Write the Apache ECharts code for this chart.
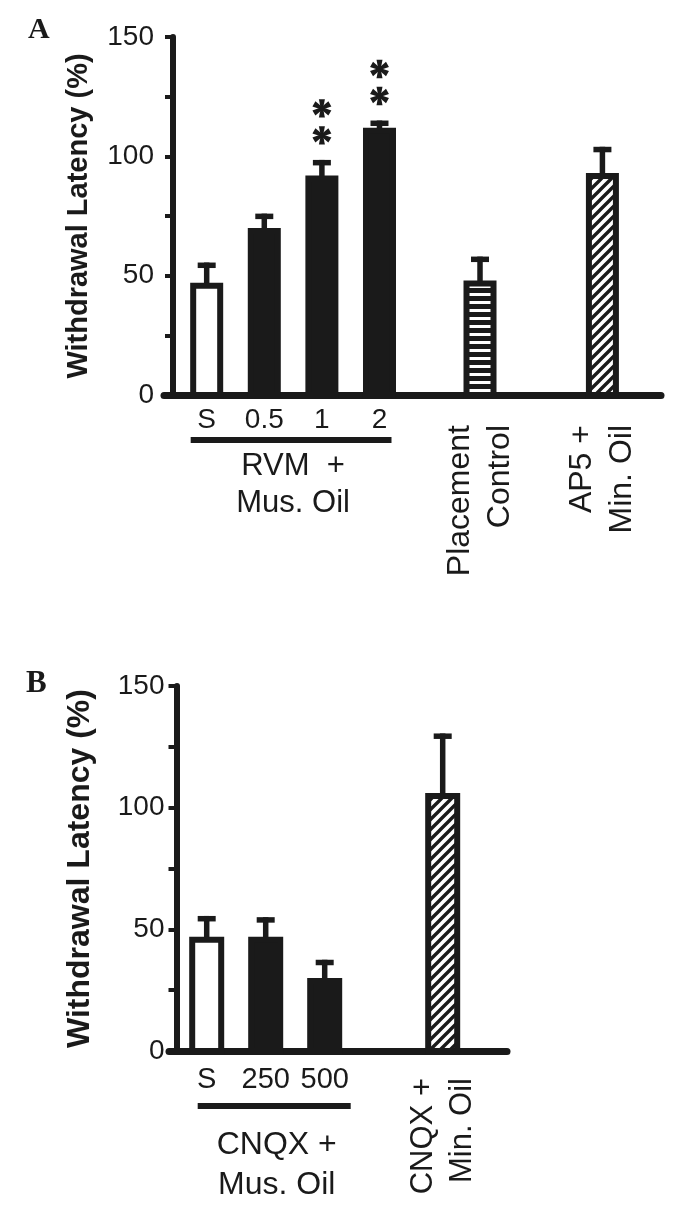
<!DOCTYPE html>
<html><head><meta charset="utf-8">
<script src="https://cdn.jsdelivr.net/npm/echarts@6/dist/echarts.min.js"></script>
<style>html,body{margin:0;padding:0;background:#fff}#c{width:694px;height:1220px}</style>
</head><body><div id="c"></div>
<script>
// ---------- data ----------
const yTicks = [0, 50, 100, 150];
const yTitle = 'Withdrawal Latency (%)';
const catsA = ['S', '0.5', '1', '2', 'Placement\nControl', 'AP5 +\nMin. Oil'];
const valsA = [47, 70, 92, 112, 48, 93];
const errA = [8.5, 6, 6.5, 3, 10, 11];
const starsA = [0, 0, 2, 2, 0, 0];
const groupA = 'RVM  +\nMus. Oil';
const catsB = ['S', '250', '500', 'CNQX +\nMin. Oil'];
const valsB = [47, 47, 30, 106];
const errB = [8.5, 8, 7.5, 24.5];
const starsB = [0, 0, 0, 0];
const groupB = 'CNQX +\nMus. Oil';

// ---------- layout / style ----------
const INK = '#1a1a1a';
const FONT = 'Liberation Sans, Arial, Helvetica, sans-serif';
const posA = [1, 2, 3, 4, 5.745, 7.87];
const posB = [1, 2, 3, 5];
const fillA = ['white', 'black', 'black', 'black', 'hstripe', 'diag'];
const fillB = ['white', 'black', 'black', 'diag'];
const rotA = [0, 0, 0, 0, 1, 1];
const rotB = [0, 0, 0, 1];

function makeDiag() {
  const s = 10, c = document.createElement('canvas');
  c.width = s; c.height = s;
  const g = c.getContext('2d');
  g.fillStyle = '#fff'; g.fillRect(0, 0, s, s);
  g.strokeStyle = INK; g.lineWidth = 3.4; g.lineCap = 'square';
  g.beginPath();
  g.moveTo(0, s); g.lineTo(s, 0);
  g.moveTo(-2, 2); g.lineTo(2, -2);
  g.moveTo(s - 2, s + 2); g.lineTo(s + 2, s - 2);
  g.stroke();
  return c;
}
function makeHStripe() {
  const c = document.createElement('canvas');
  c.width = 4; c.height = 8;
  const g = c.getContext('2d');
  g.fillStyle = INK; g.fillRect(0, 0, 4, 8);
  g.fillStyle = '#fff'; g.fillRect(0, 5, 4, 3);
  return c;
}
const PAT = { diag: makeDiag(), hstripe: makeHStripe() };
function fillOf(k) {
  if (k === 'white') return '#fff';
  if (k === 'black') return INK;
  return { image: PAT[k], repeat: 'repeat' };
}

// six-spoke heavy asterisk marker centred at (cx, cy)
function asterisk(cx, cy) {
  const ch = [{ type: 'circle', shape: { cx: cx, cy: cy, r: 2.6 }, style: { fill: INK } }];
  const R = 9.2;
  [90, 30, -30, -90, 150, 210].forEach(deg => {
    const t = deg * Math.PI / 180;
    const dx = Math.cos(t), dy = -Math.sin(t), nx = -dy, ny = dx;
    const pts = [
      [cx + nx * 1.2, cy + ny * 1.2],
      [cx + dx * R + nx * 3, cy + dy * R + ny * 3],
      [cx + dx * R - nx * 3, cy + dy * R - ny * 3],
      [cx - nx * 1.2, cy - ny * 1.2]
    ];
    ch.push({ type: 'polygon', shape: { points: pts }, style: { fill: INK } });
  });
  return { type: 'group', children: ch };
}

const panels = [
  { cats: catsA, vals: valsA, errs: errA, stars: starsA, pos: posA, fills: fillA, rot: rotA, group: groupA,
    grid: { left: 164, top: 37, width: 497, height: 358 }, xmin: 0.259, xmax: 8.887, yOff: -9,
    barW: 33, border: 6, nameGap: 80, nameSize: 29,
    lab: { size: 28, dy: 25.5, rotSize: 32, rotDy: 30, rotLH: 40 },
    grp: { from: 1, to: 4, l: -16, r: 12, ly: 42, lh: 6, size: 31, ty: 90, tlh: 36.5, tdx: 0 } },
  { cats: catsB, vals: valsB, errs: errB, stars: starsB, pos: posB, fills: fillB, rot: rotB, group: groupB,
    grid: { left: 169, top: 686, width: 338, height: 365 }, xmin: 0.361, xmax: 6.09, yOff: -7.5,
    barW: 35, border: 6, nameGap: 80, nameSize: 32,
    lab: { size: 29, dy: 28.5, rotSize: 31, rotDy: 27, rotLH: 39 },
    grp: { from: 1, to: 3, l: -9, r: 26, ly: 52, lh: 6, size: 32, ty: 114, tlh: 39.5, tdx: 11 } }
];

const grids = [], xAxes = [], yAxes = [], series = [];
panels.forEach((P, pi) => {
  grids.push(P.grid);
  xAxes.push({ gridIndex: pi, type: 'value', min: P.xmin, max: P.xmax,
    axisLine: { show: true, onZero: false, lineStyle: { color: INK, width: 7 } },
    axisTick: { show: false }, axisLabel: { show: false }, splitLine: { show: false } });
  yAxes.push({ gridIndex: pi, type: 'value', min: 0, max: 150, interval: 25, offset: P.yOff,
    name: yTitle, nameLocation: 'middle', nameRotate: 90, nameGap: P.nameGap,
    nameTextStyle: { fontFamily: FONT, fontWeight: 'bold', fontSize: P.nameSize, color: INK },
    axisLine: { show: true, lineStyle: { color: INK, width: 6 } },
    axisTick: { show: true, inside: false, length: 8, lineStyle: { color: INK, width: 4 } },
    axisLabel: { margin: pi === 0 ? 19 : 12, fontFamily: FONT, fontSize: 28, color: INK,
      formatter: v => yTicks.indexOf(v) >= 0 ? String(v) : '' },
    splitLine: { show: false } });

  // bars + error bars + asterisks
  series.push({
    type: 'custom', xAxisIndex: pi, yAxisIndex: pi, clip: false,
    data: P.vals.map((v, i) => [P.pos[i], v, P.errs[i], P.stars[i]]),
    encode: { x: 0, y: 1 },
    renderItem: (params, api) => {
      const i = params.dataIndex;
      const x = api.value(0), v = api.value(1), e = api.value(2), ns = api.value(3);
      const base = api.coord([x, 0]), top = api.coord([x, v]), et = api.coord([x, v + e]);
      const cx = base[0], w = P.barW, b = P.border;
      const ch = [];
      ch.push({ type: 'rect', shape: { x: cx - 2.75, y: et[1], width: 5.5, height: top[1] - et[1] + 3 }, style: { fill: INK } });
      ch.push({ type: 'rect', shape: { x: cx - 9, y: et[1], width: 18, height: 5.5 }, style: { fill: INK } });
      ch.push({ type: 'rect', shape: { x: cx - w / 2 + b / 2, y: top[1] + b / 2, width: w - b, height: base[1] - top[1] - b / 2 },
        style: { fill: fillOf(P.fills[i]), stroke: INK, lineWidth: b } });
      for (let k = 0; k < ns; k++) ch.push(asterisk(cx, et[1] - 24.5 - 27 * k));
      return { type: 'group', children: ch };
    },
    z: 3
  });

  // category labels
  series.push({
    type: 'custom', xAxisIndex: pi, yAxisIndex: pi, clip: false,
    data: P.pos.map(p => [p, 0]), encode: { x: 0, y: 1 },
    renderItem: (params, api) => {
      const i = params.dataIndex;
      const base = api.coord([api.value(0), 0]);
      if (P.rot[i]) {
        return { type: 'text', x: base[0], y: base[1] + P.lab.rotDy, rotation: Math.PI / 2,
          style: { text: P.cats[i], fill: INK, fontFamily: FONT, fontSize: P.lab.rotSize,
            lineHeight: P.lab.rotLH, align: 'right', verticalAlign: 'middle', textAlign: 'right', textVerticalAlign: 'middle' } };
      }
      return { type: 'text', x: base[0], y: base[1] + P.lab.dy,
        style: { text: P.cats[i], fill: INK, fontFamily: FONT, fontSize: P.lab.size,
          align: 'center', verticalAlign: 'middle', textAlign: 'center', textVerticalAlign: 'middle' } };
    }
  });

  // group underline + group label
  series.push({
    type: 'custom', xAxisIndex: pi, yAxisIndex: pi, clip: false,
    data: [[P.grp.from, P.grp.to, 0]], encode: { x: [0, 1], y: 2 },
    renderItem: (params, api) => {
      const a = api.coord([api.value(0), 0]), c = api.coord([api.value(1), 0]);
      const G = P.grp;
      return { type: 'group', children: [
        { type: 'rect', shape: { x: a[0] + G.l, y: a[1] + G.ly, width: c[0] + G.r - a[0] - G.l, height: G.lh }, style: { fill: INK } },
        { type: 'text', x: (a[0] + c[0]) / 2 + G.tdx, y: a[1] + G.ty,
          style: { text: P.group, fill: INK, fontFamily: FONT, fontSize: G.size, lineHeight: G.tlh,
            align: 'center', verticalAlign: 'middle', textAlign: 'center', textVerticalAlign: 'middle' } }
      ] };
    }
  });
});

const chart = echarts.init(document.getElementById('c'), null, { renderer: 'canvas' });
chart.setOption({
  animation: false,
  backgroundColor: '#fff',
  title: [
    { text: 'A', left: 23, top: 10, textStyle: { fontFamily: 'Liberation Serif, Times New Roman, serif', fontWeight: 'bold', fontSize: 30, color: INK } },
    { text: 'B', left: 21, top: 663, textStyle: { fontFamily: 'Liberation Serif, Times New Roman, serif', fontWeight: 'bold', fontSize: 31, color: INK } }
  ],
  grid: grids, xAxis: xAxes, yAxis: yAxes, series: series
});
</script></body></html>
